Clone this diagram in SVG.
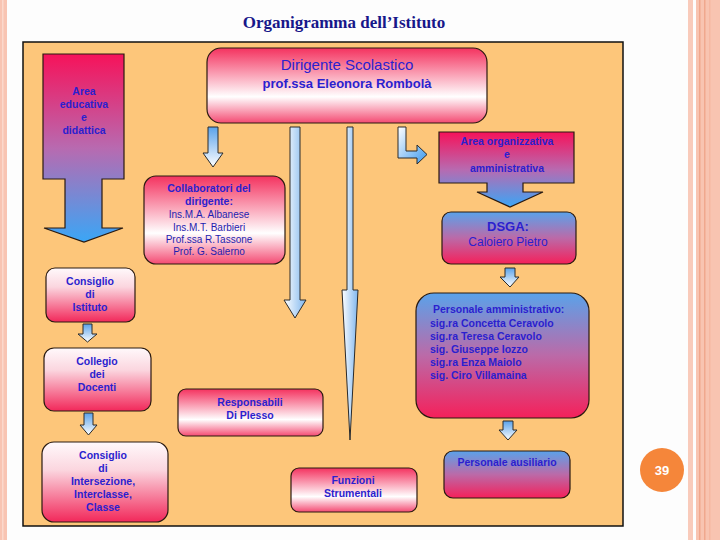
<svg xmlns="http://www.w3.org/2000/svg" width="720" height="540" viewBox="0 0 720 540">
<defs>
<linearGradient id="gRedWhite" x1="0" y1="0" x2="0" y2="1">
<stop offset="0" stop-color="#f4325f"/><stop offset="0.65" stop-color="#ffffff"/><stop offset="1" stop-color="#f44a72"/>
</linearGradient>
<linearGradient id="gWhiteRed" x1="0" y1="0" x2="0" y2="1">
<stop offset="0" stop-color="#fff9fb"/><stop offset="0.35" stop-color="#fbd6df"/><stop offset="1" stop-color="#f2285a"/>
</linearGradient>
<linearGradient id="gBlueRed" x1="0" y1="0" x2="0" y2="1">
<stop offset="0" stop-color="#5aa2ea"/><stop offset="0.5" stop-color="#bb6aa8"/><stop offset="1" stop-color="#f5205a"/>
</linearGradient>
<linearGradient id="gRedBlue" x1="0" y1="0" x2="0" y2="1">
<stop offset="0" stop-color="#f6125a"/><stop offset="0.5" stop-color="#b86ab0"/><stop offset="1" stop-color="#3aa6f6"/>
</linearGradient>
<linearGradient id="gSmall" x1="0" y1="0" x2="0" y2="1">
<stop offset="0" stop-color="#5aa2ea"/><stop offset="1" stop-color="#ffffff"/>
</linearGradient>
<linearGradient id="gLong" x1="0" y1="0" x2="1" y2="0">
<stop offset="0" stop-color="#ffffff"/><stop offset="1" stop-color="#7fb6ee"/>
</linearGradient>
<linearGradient id="gL" x1="0" y1="0" x2="1" y2="1">
<stop offset="0" stop-color="#ffffff"/><stop offset="1" stop-color="#3a98ee"/>
</linearGradient>
<style>
.box{stroke:#2a1a10;stroke-width:1.2}
.arr{stroke:#2a2a2a;stroke-width:1}
.t{font-family:"Liberation Sans",Arial,sans-serif;fill:#2b1fcf;text-anchor:middle}
.b{font-weight:bold;font-size:10.5px}
.n{font-size:10px;fill:#1e1eb0}
.l{text-anchor:start}
</style>
</defs>
<rect x="0" y="0" width="720" height="540" fill="#fdfdfd"/>
<rect x="0" y="0" width="7" height="540" fill="#f8c4b2"/>
<rect x="2" y="0" width="1.5" height="540" fill="#fbd8cb"/>
<rect x="688" y="0" width="5" height="540" fill="#f9cbbb"/>
<rect x="696" y="0" width="24" height="540" fill="#f8c4b1"/>
<rect x="699" y="0" width="1.5" height="540" fill="#f0a88e"/>
<rect x="704" y="0" width="1.5" height="540" fill="#f0a88e"/>
<rect x="709" y="0" width="1.5" height="540" fill="#f5b8a2"/>
<text x="344" y="28" font-family="Liberation Serif,Times New Roman,serif" font-weight="bold" font-size="17" fill="#17178a" text-anchor="middle">Organigramma dell’Istituto</text>
<rect x="23" y="42" width="600" height="484" fill="#fdc67a" stroke="#111" stroke-width="1.5"/>

<g id="connectors">
<path class="arr" fill="url(#gSmall)" d="M208,127 H218 V153 H223 L213,167 L203,153 H208 Z"/>
<path class="arr" fill="url(#gLong)" d="M290,127 H300 V300 H306 L295,318 L284,300 H290 Z"/>
<path class="arr" fill="url(#gLong)" d="M347,127 H353 V290 H358 L350,440 L342,290 H347 Z"/>
<path class="arr" fill="url(#gL)" d="M398,127 H406 V151 H417 V145 L427,154.5 L417,164 V158 H398 Z"/>
<path class="arr" fill="url(#gSmall)" d="M505,268 H515 V277 H519 L510,287 L500,277 H505 Z"/>
<path class="arr" fill="url(#gSmall)" d="M503,421 H513 V430 H517 L508,440 L499,430 H503 Z"/>
<path class="arr" fill="url(#gSmall)" d="M83,324 H92 V334 H97 L87.5,342 L78,334 H83 Z"/>
<path class="arr" fill="url(#gSmall)" d="M84,413 H93 V425 H97 L88.5,435 L80,425 H84 Z"/>
</g>

<g id="area-educativa">
<path class="box" fill="url(#gRedBlue)" d="M43,54 H124 V179 H102 V228 H123 L84,242 L44,228 H65 V179 H43 Z"/>
<text class="t b" x="84" y="95">Area</text>
<text class="t b" x="84" y="108">educativa</text>
<text class="t b" x="84" y="121">e</text>
<text class="t b" x="84" y="134">didattica</text>
</g>

<g id="dirigente">
<rect class="box" x="207" y="48" width="280" height="75" rx="14" fill="url(#gRedWhite)"/>
<text class="t" x="347" y="70" font-size="15">Dirigente Scolastico</text>
<text class="t" x="347" y="88" font-size="13" font-weight="bold">prof.ssa Eleonora Rombolà</text>
</g>

<g id="area-organizzativa">
<path class="box" fill="url(#gRedBlue)" d="M439,132 H574 V183 H523 V192 H543 L510,207 L477,192 H487 V183 H439 Z"/>
<text class="t b" x="507" y="145" font-size="10">Area organizzativa</text>
<text class="t b" x="507" y="158" font-size="10">e</text>
<text class="t b" x="507" y="172" font-size="10">amministrativa</text>
</g>

<g id="collaboratori">
<rect class="box" x="144" y="176" width="141" height="88" rx="12" fill="url(#gRedWhite)"/>
<text class="t b" x="209" y="192">Collaboratori del</text>
<text class="t b" x="209" y="205">dirigente:</text>
<text class="t n" x="209" y="218">Ins.M.A.  Albanese</text>
<text class="t n" x="209" y="231">Ins.M.T.  Barbieri</text>
<text class="t n" x="209" y="243">Prof.ssa R.Tassone</text>
<text class="t n" x="209" y="255">Prof. G.  Salerno</text>
</g>

<g id="dsga">
<rect class="box" x="442" y="212" width="134" height="52" rx="9" fill="url(#gBlueRed)"/>
<text class="t" x="508" y="231" font-size="13" font-weight="bold">DSGA:</text>
<text class="t" x="508" y="246" font-size="12">Caloiero Pietro</text>
</g>

<g id="personale-amministrativo">
<rect class="box" x="416" y="293" width="173" height="125" rx="18" fill="url(#gBlueRed)"/>
<text class="t b l" x="433" y="313" font-size="10">Personale amministrativo:</text>
<text class="t b l" x="430" y="327" font-size="10">sig.ra Concetta Ceravolo</text>
<text class="t b l" x="430" y="340" font-size="10">sig.ra Teresa Ceravolo</text>
<text class="t b l" x="430" y="353" font-size="10">sig. Giuseppe Iozzo</text>
<text class="t b l" x="430" y="366" font-size="10">sig.ra Enza Maiolo</text>
<text class="t b l" x="430" y="379" font-size="10">sig. Ciro Villamaina</text>
</g>

<g id="consiglio-istituto">
<rect class="box" x="46" y="268" width="89" height="54" rx="9" fill="url(#gWhiteRed)"/>
<text class="t b" x="90" y="285">Consiglio</text>
<text class="t b" x="90" y="298">di</text>
<text class="t b" x="90" y="311">Istituto</text>
</g>

<g id="collegio-docenti">
<rect class="box" x="44" y="348" width="107" height="63" rx="10" fill="url(#gWhiteRed)"/>
<text class="t b" x="97" y="365">Collegio</text>
<text class="t b" x="97" y="378">dei</text>
<text class="t b" x="97" y="391">Docenti</text>
</g>

<g id="responsabili-plesso">
<rect class="box" x="178" y="389" width="145" height="47" rx="8" fill="url(#gRedWhite)"/>
<text class="t b" x="250" y="406">Responsabili</text>
<text class="t b" x="250" y="419">Di Plesso</text>
</g>

<g id="consiglio-intersezione">
<rect class="box" x="42" y="442" width="126" height="80" rx="12" fill="url(#gWhiteRed)"/>
<text class="t b" x="103" y="459">Consiglio</text>
<text class="t b" x="103" y="472">di</text>
<text class="t b" x="103" y="485">Intersezione,</text>
<text class="t b" x="103" y="498">Interclasse,</text>
<text class="t b" x="103" y="511">Classe</text>
</g>

<g id="funzioni-strumentali">
<rect class="box" x="291" y="468" width="126" height="44" rx="8" fill="url(#gRedWhite)"/>
<text class="t b" x="353" y="484">Funzioni</text>
<text class="t b" x="353" y="497">Strumentali</text>
</g>

<g id="personale-ausiliario">
<rect class="box" x="444" y="451" width="126" height="47" rx="9" fill="url(#gBlueRed)"/>
<text class="t b" x="507" y="466">Personale ausiliario</text>
</g>

<g id="page-number">
<circle cx="662" cy="470" r="22" fill="#f5863a"/>
<text x="662" y="475" font-family="Liberation Sans,Arial,sans-serif" font-weight="bold" font-size="13" fill="#ffffff" text-anchor="middle">39</text>
</g>
</svg>
